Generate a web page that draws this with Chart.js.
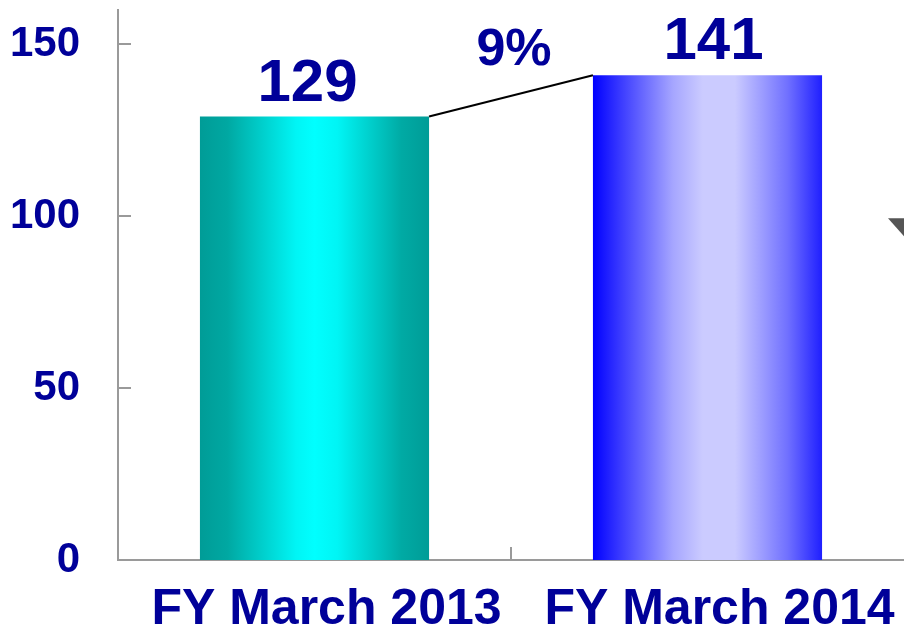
<!DOCTYPE html>
<html lang="en">
<head>
    <meta charset="UTF-8">
    <title>FY March comparison</title>
    <script src="https://cdn.jsdelivr.net/npm/chart.js"></script>
</head>
<style>
    body {
    margin: 0;
    background: white;
}
</style>
<body>
    <canvas id="chart" width="904" height="627"></canvas>
    <script>
    const categories = ['FY March 2013', 'FY March 2014'];
    const values = [129, 141];
    const growthLabel = '9%';
    const yTicks = [0, 50, 100, 150];

    const navy = '#000099';
    const axisGray = '#9a9a9a';
    const barPct = 0.583;
    const valueShift = [-7, 6];

    // horizontal gradient stops per bar
    const gradientStops = [
        [[0, '#009c97'], [0.12, '#00a8a2'], [0.42, '#00f5f5'], [0.5, '#00ffff'], [0.6, '#00f5f5'], [0.88, '#00aaa4'], [1, '#009c97']],
        [[0, '#0000ff'], [0.12, '#3a3aff'], [0.35, '#a6a6ff'], [0.48, '#cbcbff'], [0.62, '#cbcbff'], [0.85, '#7070ff'], [1, '#1f1fff']]
    ];

    function barGradient(context) {
        const chart = context.chart;
        if (!chart.chartArea) return '#00ffff';
        const xs = chart.scales.x;
        const cx = xs.getPixelForValue(context.dataIndex);
        const catW = xs.width / categories.length;
        const w = catW * barPct;
        const g = chart.ctx.createLinearGradient(cx - w / 2, 0, cx + w / 2, 0);
        gradientStops[context.dataIndex].forEach(s => g.addColorStop(s[0], s[1]));
        return g;
    }

    const decorPlugin = {
        id: 'decor',
        afterDatasetsDraw(chart) {
            const ctx = chart.ctx;
            const ys = chart.scales.y;
            const xs = chart.scales.x;
            const area = chart.chartArea;
            const bars = chart.getDatasetMeta(0).data;

            ctx.save();
            // inside tick marks on the y axis
            ctx.strokeStyle = axisGray;
            ctx.lineWidth = 2;
            yTicks.slice(1).forEach(v => {
                const y = Math.round(ys.getPixelForValue(v));
                ctx.beginPath();
                ctx.moveTo(area.left, y);
                ctx.lineTo(area.left + 13, y);
                ctx.stroke();
            });
            // category divider tick on the x axis
            for (let i = 1; i < categories.length; i++) {
                const x = Math.round((xs.getPixelForValue(i - 1) + xs.getPixelForValue(i)) / 2);
                ctx.beginPath();
                ctx.moveTo(x, area.bottom);
                ctx.lineTo(x, area.bottom - 13);
                ctx.stroke();
            }

            // connector line between bar tops
            const b0 = bars[0], b1 = bars[1];
            const x0 = b0.x + b0.width / 2, y0 = b0.y;
            const x1 = b1.x - b1.width / 2, y1 = b1.y;
            ctx.strokeStyle = '#000000';
            ctx.lineWidth = 2;
            ctx.beginPath();
            ctx.moveTo(x0, y0);
            ctx.lineTo(x1, y1);
            ctx.stroke();

            // value labels
            ctx.fillStyle = navy;
            ctx.textAlign = 'center';
            ctx.textBaseline = 'alphabetic';
            ctx.font = 'bold 60px "Liberation Sans", Arial, sans-serif';
            bars.forEach((b, i) => {
                ctx.fillText(String(values[i]), b.x + valueShift[i], b.y - 16);
            });

            // growth label
            ctx.font = 'bold 52px "Liberation Sans", Arial, sans-serif';
            ctx.textBaseline = 'middle';
            ctx.fillText(growthLabel, (x0 + x1) / 2 + 3, (y0 + y1) / 2 - 45);

            // small gray marker at right edge
            const ty = ys.getPixelForValue(100);
            const rx = chart.width;
            ctx.fillStyle = '#555555';
            ctx.beginPath();
            ctx.moveTo(rx - 16, ty + 2);
            ctx.lineTo(rx, ty + 2);
            ctx.lineTo(rx, ty + 20);
            ctx.closePath();
            ctx.fill();
            ctx.restore();
        }
    };

    new Chart(document.getElementById('chart'), {
        type: 'bar',
        data: {
            labels: categories,
            datasets: [{
                data: values,
                backgroundColor: barGradient,
                borderWidth: 0,
                categoryPercentage: 1,
                barPercentage: barPct
            }]
        },
        options: {
            responsive: false,
            animation: false,
            layout: { padding: { top: 10, right: -5, left: 0, bottom: 0 } },
            plugins: {
                legend: { display: false },
                tooltip: { enabled: false }
            },
            scales: {
                x: {
                    grid: { display: false, drawTicks: false },
                    border: { display: true, color: axisGray, width: 2 },
                    ticks: {
                        color: navy,
                        font: { family: '"Liberation Sans", Arial, sans-serif', size: 50, weight: 'bold' },
                        padding: 20,
                        labelOffset: 12,
                        maxRotation: 0,
                        autoSkip: false
                    },
                    afterFit(scale) {
                        scale.height = 67;
                        scale.paddingLeft = 0;
                        scale.paddingRight = 0;
                    }
                },
                y: {
                    min: 0,
                    max: 160,
                    afterBuildTicks(scale) {
                        scale.ticks = yTicks.map(v => ({ value: v }));
                    },
                    grid: { display: false, drawTicks: false },
                    border: { display: true, color: axisGray, width: 2 },
                    ticks: {
                        color: navy,
                        font: { family: '"Liberation Sans", Arial, sans-serif', size: 42, weight: 'bold' },
                        padding: 38
                    },
                    afterFit(scale) {
                        scale.width = 118;
                        scale.paddingTop = 0;
                        scale.paddingBottom = 0;
                    }
                }
            }
        },
        plugins: [decorPlugin]
    });
    </script>
</body>
</html>
